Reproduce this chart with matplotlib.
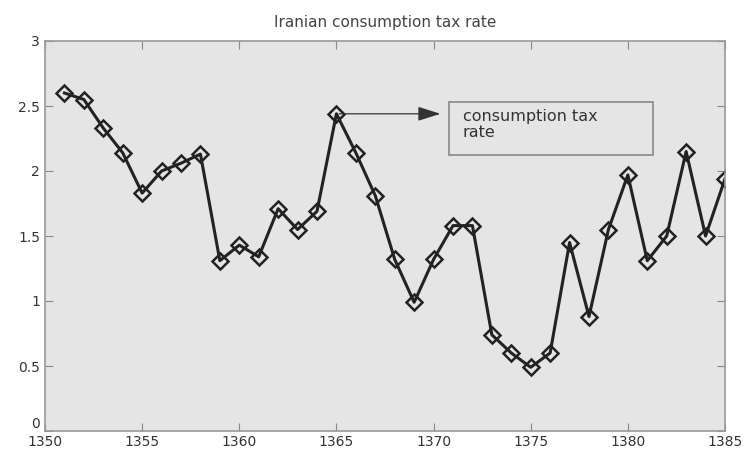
import matplotlib
matplotlib.use("Agg")
import matplotlib.pyplot as plt
from matplotlib.patches import Rectangle

# values
years = list(range(1351, 1386))
tax_rate = [2.60, 2.55, 2.33, 2.14, 1.83, 2.00, 2.06, 2.13, 1.31, 1.43,
            1.34, 1.71, 1.55, 1.69, 2.44, 2.14, 1.81, 1.32, 0.99, 1.32,
            1.58, 1.58, 0.74, 0.60, 0.49, 0.60, 1.45, 0.88, 1.55, 1.97,
            1.31, 1.50, 2.15, 1.50, 1.94]
x_ticks = [1350, 1355, 1360, 1365, 1370, 1375, 1380, 1385]
y_ticks = [0, 0.5, 1, 1.5, 2, 2.5, 3]
y_tick_labels = ["0", "0.5", "1", "1.5", "2", "2.5", "3"]

plt.rcParams["font.family"] = ["DejaVu Sans"]

fig = plt.figure(figsize=(7.46, 4.55), dpi=100)
ax = fig.add_axes([45 / 746, 24 / 455, 680 / 746, 390 / 455])
ax.set_facecolor("#e5e5e5")

ax.plot(years, tax_rate, color="#222222", linewidth=2.2, marker="D",
        markersize=8.5, markerfacecolor="none", markeredgecolor="#222222",
        markeredgewidth=1.8)

ax.set_xlim(1350, 1385)
ax.set_ylim(0, 3)
ax.set_xticks(x_ticks)
ax.set_yticks(y_ticks)
ax.set_yticklabels(y_tick_labels)
ax.tick_params(direction="in", top=True, right=True, length=6,
               color="#888888", labelcolor="#333333", labelsize=10)
ax.tick_params(axis="x", pad=3)
# lift the "0" a little so it clears the "1350" below it
ax.get_yticklabels()[0].set_va("bottom")
for s in ax.spines.values():
    s.set_color("#999999")
    s.set_linewidth(1.2)

ax.set_title("Iranian consumption tax rate", fontsize=11, color="#444444", pad=10)

# annotation box with arrow pointing at the 1365 peak
peak = years.index(1365)
ax.annotate("", xy=(1370.5, tax_rate[peak]), xytext=(1365, tax_rate[peak]),
            arrowprops=dict(arrowstyle="-|>,head_length=0.7,head_width=0.22",
                            color="#333333", lw=0.9, mutation_scale=20))
ax.add_patch(Rectangle((1370.8, 2.12), 10.5, 0.41, facecolor="none",
                       edgecolor="#888888", linewidth=1.2))
ax.text(1371.5, 2.48, "consumption tax\nrate", fontsize=11.5, color="#333333",
        va="top", ha="left", linespacing=1.15)

fig.savefig("out.png", dpi=100, facecolor="white")
